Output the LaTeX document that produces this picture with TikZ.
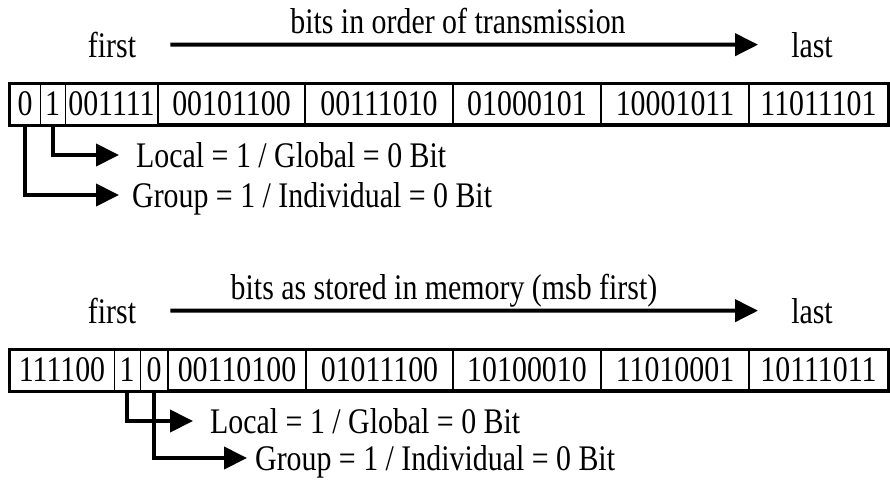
\documentclass[tikz,border=0pt]{standalone}
\usepackage{fontspec}
\setmainfont{Liberation Serif}[FakeStretch=0.83]
\usetikzlibrary{arrows.meta}
\begin{document}
\begin{tikzpicture}[x=1pt,y=-1pt,
  every node/.style={font=\fontsize{36}{42}\selectfont, inner sep=0pt},
  cell/.style={draw, line width=1pt, minimum height=40pt, anchor=center},
  bytecell/.style={cell, line width=2.2pt},
  frame/.style={line width=3pt},
  lbl/.style={anchor=west, text height=24pt, text depth=0pt},
  conn/.style={line width=4pt, -{Triangle[length=23pt,width=22pt]}},
  txt/.style={anchor=base},
]
\useasboundingbox (0,0) rectangle (890,479);

% ---------- top part ----------
\node[txt] (title1) at (458,33) {bits in order of transmission};
\node[txt] (first1) at (112,57) {first};
\node[txt] (last1) at (812,57) {last};
\draw[conn, shorten <=34pt, shorten >=33pt] (first1.east) -- (last1.west);

\node[cell, minimum width=30pt] (t1) at (25,104) {0};
\node[cell, minimum width=25pt] (t2) at (52.5,104) {1};
\node[cell, minimum width=93pt] (t3) at (111.5,104) {001111};
\node[bytecell, minimum width=147pt] (t4) at (231.5,104) {00101100};
\node[bytecell, minimum width=148pt] (t5) at (379,104) {00111010};
\node[bytecell, minimum width=148pt] (t6) at (527,104) {01000101};
\node[bytecell, minimum width=148pt] (t7) at (675,104) {10001011};
\node[bytecell, minimum width=139pt] (t8) at (818.5,104) {11011101};
\draw[frame] (t1.north west) rectangle (t8.south east);

\node[lbl] (lblL1) at (136,155) {Local = 1 / Global = 0 Bit};
\node[lbl] (lblG1) at (132,195) {Group = 1 / Individual = 0 Bit};
\draw[conn, shorten >=17pt] (t2.south) |- (lblL1.west);
\draw[conn, shorten >=13pt] (t1.south) |- (lblG1.west);

% ---------- bottom part ----------
\node[txt] (title2) at (444,299) {bits as stored in memory (msb first)};
\node[txt] (first2) at (112,323) {first};
\node[txt] (last2) at (812,323) {last};
\draw[conn, shorten <=34pt, shorten >=33pt] (first2.east) -- (last2.west);

\node[cell, minimum width=104pt] (b1) at (62,370) {111100};
\node[cell, minimum width=26pt] (b2) at (127,370) {1};
\node[cell, minimum width=28pt] (b3) at (154,370) {0};
\node[bytecell, minimum width=138pt] (b4) at (237,370) {00110100};
\node[bytecell, minimum width=147pt] (b5) at (379.5,370) {01011100};
\node[bytecell, minimum width=148pt] (b6) at (527,370) {10100010};
\node[bytecell, minimum width=148pt] (b7) at (675,370) {11010001};
\node[bytecell, minimum width=139pt] (b8) at (818.5,370) {10111011};
\draw[frame] (b1.north west) rectangle (b8.south east);

\node[lbl] (lblL2) at (210,421) {Local = 1 / Global = 0 Bit};
\node[lbl] (lblG2) at (255,458) {Group = 1 / Individual = 0 Bit};
\draw[conn, shorten >=17pt] (b2.south) |- (lblL2.west);
\draw[conn, shorten >=8pt] (b3.south) |- (lblG2.west);
\end{tikzpicture}
\end{document}
